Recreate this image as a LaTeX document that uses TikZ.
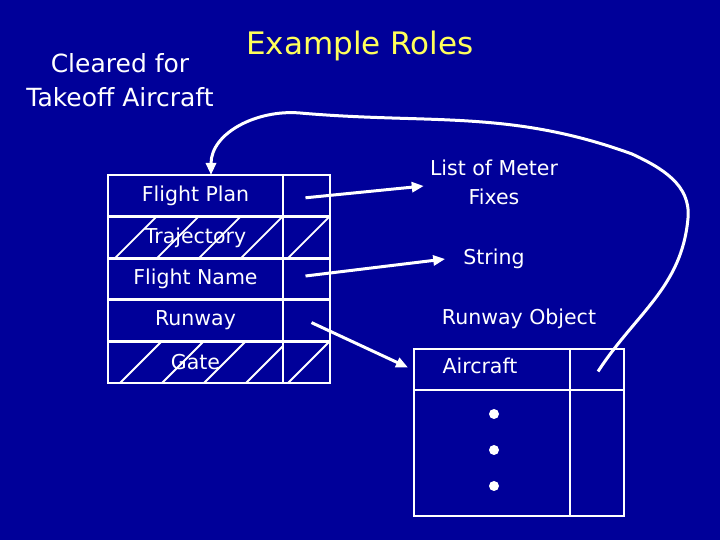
\documentclass[tikz,border=0pt]{standalone}
\usepackage{fontspec}
\setmainfont{DejaVu Sans}
\usetikzlibrary{arrows.meta}
\definecolor{bg}{RGB}{0,0,153}
\definecolor{ttl}{RGB}{255,255,90}
\begin{document}
\begin{tikzpicture}[x=1pt,y=1pt,
  cell/.style={draw=white, line width=2.8pt, outer sep=0pt, minimum height=41.6pt, inner sep=0pt, text=white, font=\fontsize{20.5}{24}\selectfont},
  lcell/.style={cell, minimum width=175pt},
  rcell/.style={cell, minimum width=47pt},
  lbl/.style={text=white, inner sep=0pt, font=\fontsize{20.5}{29}\selectfont, align=center},
  hatch/.style={white, line width=1.8pt},
  arr/.style={white, line width=3pt, -{Triangle[length=12pt,width=10pt]}},
  dotnode/.style={circle, fill=white, minimum size=10pt, inner sep=0pt},
]
\fill[bg] (0,0) rectangle (720,540);
\useasboundingbox (0,0) rectangle (720,540);

% titles
\node[text=ttl, inner sep=0pt, font=\fontsize{31}{36}\selectfont] (title) at (360,494) {Example Roles};
\node[text=white, inner sep=0pt, align=center, font=\fontsize{25}{34}\selectfont] (cleared) at (120,460) {Cleared for\\Takeoff Aircraft};

% main table
\node[lcell] (fp) at (195.5,344.2) {Flight Plan};
\node[rcell] (fpr) at (306.5,344.2) {};
\node[lcell] (tr) at (195.5,302.6) {Trajectory};
\node[rcell] (trr) at (306.5,302.6) {};
\node[lcell] (fn) at (195.5,261.0) {Flight Name};
\node[rcell] (fnr) at (306.5,261.0) {};
\node[lcell] (rw) at (195.5,219.4) {Runway};
\node[rcell] (rwr) at (306.5,219.4) {};
\node[lcell] (gt) at (195.5,177.8) {Gate};
\node[rcell] (gtr) at (306.5,177.8) {};

% hatching
\begin{scope}
  \clip (tr.south west) rectangle (tr.north east);
  \foreach \x in {115,157,199,241} \draw[hatch] (\x,281.8) -- ++(42,42);
\end{scope}
\begin{scope}
  \clip (trr.south west) rectangle (trr.north east);
  \draw[hatch] (288,281.8) -- ++(42,42);
\end{scope}
\begin{scope}
  \clip (gt.south west) rectangle (gt.north east);
  \foreach \x in {120,162,204,246} \draw[hatch] (\x,157) -- ++(42,42);
\end{scope}
\begin{scope}
  \clip (gtr.south west) rectangle (gtr.north east);
  \draw[hatch] (288,157) -- ++(42,42);
\end{scope}
% redraw table borders over the hatching
\foreach \n in {tr,trr,gt,gtr}
  \draw[white, line width=2.8pt] (\n.south west) rectangle (\n.north east);

% labels on the right
\node[lbl] (lm) at (494,358) {List of Meter\\Fixes};
\node[lbl] (str) at (494,281) {String};
\node[lbl] (ro) at (519,221) {Runway Object};

% runway object table
\node[cell, minimum width=156pt, minimum height=41pt] (acc) at (492,170.5) {};
\node[cell, minimum width=54pt, minimum height=41pt] (acr) at (597,170.5) {};
\node[cell, minimum width=156pt, minimum height=126pt] (lowl) at (492,87) {};
\node[cell, minimum width=54pt, minimum height=126pt] (lowr) at (597,87) {};
\node[lbl] (actext) at (480,174) {Aircraft};
\node[dotnode] (d1) at (494,126) {};
\node[dotnode] (d2) at (494,90) {};
\node[dotnode] (d3) at (494,54) {};

% arrows
\draw[arr] ([xshift=-1pt,yshift=-2pt]fpr.center) -- ([xshift=-6pt,yshift=-4pt]lm.west);
\draw[arr] ([xshift=-1pt,yshift=3pt]fnr.center) -- ([xshift=-18pt]str.west);
\draw[arr] ([xshift=5pt,yshift=-2pt]rwr.center) -- ([xshift=-6pt,yshift=2pt]acc.west);
\draw[arr] ([xshift=1pt,yshift=-2pt]acr.center) to[out=57,in=-95] (688,322) to[out=85,in=-25] (632,386)
  to[out=160,in=-5] (300,427) to[out=175,in=90] ([xshift=15.5pt]fp.north);
\end{tikzpicture}
\end{document}
